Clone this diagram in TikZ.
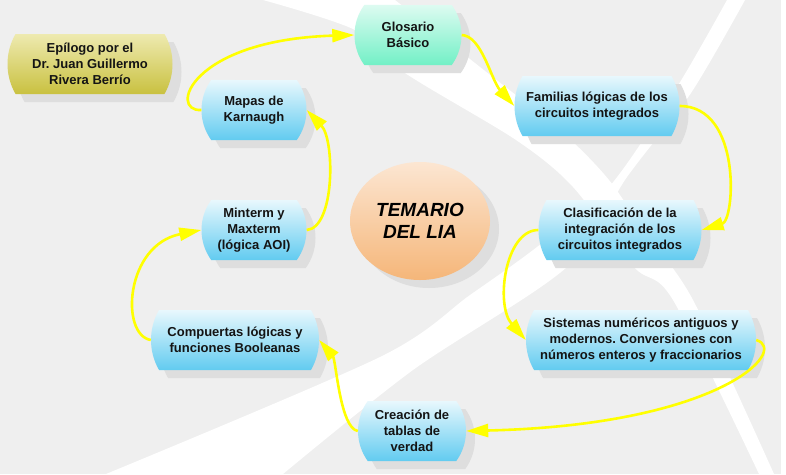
\documentclass[tikz,border=0pt]{standalone}
\usepackage{fontspec}
\setmainfont{Liberation Sans}
\frenchspacing
\usetikzlibrary{shapes.misc,shapes.geometric,shadows,arrows.meta}
\definecolor{fondo}{HTML}{EFEFEF}
\definecolor{sombra}{HTML}{DEDEDE}
\definecolor{celesteA}{HTML}{E8F8FD}
\definecolor{celesteB}{HTML}{62CBF0}
\definecolor{verdeA}{HTML}{DDFBF1}
\definecolor{verdeB}{HTML}{72F0C6}
\definecolor{olivaA}{HTML}{EEEAB0}
\definecolor{olivaB}{HTML}{C9C140}
\definecolor{naranjaA}{HTML}{FCE6D2}
\definecolor{naranjaB}{HTML}{F5B679}
\definecolor{amarillo}{HTML}{FFFF00}
\definecolor{texto}{HTML}{141414}
\begin{document}
\begin{tikzpicture}[x=1pt,y=-1pt,
  every node/.style={font=\bfseries\fontsize{13}{16}\selectfont,text=texto,align=center,inner sep=0pt},
  sombreado/.style={drop shadow={shadow xshift=9pt,shadow yshift=-8pt,fill=sombra,opacity=1}},
  tema/.style={rounded rectangle,rounded rectangle arc length=60,minimum height=60pt,sombreado},
  corto/.style={rounded rectangle arc length=72},
  azul/.style={tema,top color=celesteA,bottom color=celesteB},
  flecha/.style={amarillo,line width=2.6pt,-{Triangle[length=22pt,width=13pt]}}]
\useasboundingbox (0,0) rectangle (786,474);
% fondo con franjas blancas
\begin{scope}
\clip (0,0) rectangle (781,474);
\fill[fondo] (0,0) rectangle (781,474);
\fill[white] plot[smooth] coordinates {(263,0) (355,30) (405,73) (516,140) (573,187) (634,267) (673,300) (759,474)}
  -- plot[smooth] coordinates {(774,474) (693,300) (645,233) (609,180) (563,133) (480,67) (395,0)} -- cycle;
\fill[white] plot[smooth] coordinates {(727,0) (677,87) (609,187) (537,247) (470,295) (380,357) (106,474)}
  -- plot[smooth] coordinates {(283,474) (413,370) (567,267) (627,177) (691,93) (745,0)} -- cycle;
\end{scope}
% temas
\node[tema,top color=olivaA,bottom color=olivaB,minimum width=165pt] (epilogo) at (90,64) {Epílogo por el\\Dr. Juan Guillermo\\Rivera Berrío};
\node[tema,corto,top color=verdeA,bottom color=verdeB,minimum width=107pt] (glosario) at (408,35) {Glosario\\Básico};
\node[azul,minimum width=165pt] (familias) at (597,106) {Familias lógicas de los\\circuitos integrados};
\node[azul,corto,minimum width=105pt] (mapas) at (254,110) {Mapas de\\Karnaugh};
\node[azul,corto,minimum width=105pt] (minterm) at (254,230) {Minterm y\\Maxterm\\(lógica AOI)};
\node[ellipse,minimum width=140pt,minimum height=118pt,top color=naranjaA,bottom color=naranjaB,sombreado,
  font=\bfseries\itshape\fontsize{19}{22}\selectfont,text=black] (temario) at (420,221) {TEMARIO\\DEL LIA};
\node[azul,minimum width=163pt] (clasif) at (620,230) {Clasificación de la\\integración de los\\circuitos integrados};
\node[azul,minimum width=230pt] (sistemas) at (641,340) {Sistemas numéricos antiguos y\\modernos. Conversiones con\\números enteros y fraccionarios};
\node[azul,minimum width=168pt] (compuertas) at (235,340) {Compuertas lógicas y\\funciones Booleanas};
\node[azul,corto,minimum width=108pt] (creacion) at (412,431) {Creación de\\tablas de\\verdad};
% recorrido
\draw[flecha] (mapas.west) .. controls (168,112) and (190,40) .. (glosario.west);
\draw[flecha] (glosario.east) .. controls (482,36) and (491,80) .. (familias.west);
\draw[flecha] (familias.east) .. controls (742,106) and (735,220) .. (clasif.east);
\draw[flecha] (clasif.west) .. controls (505,230) and (495,305) .. (sistemas.west);
\draw[flecha] (sistemas.east) .. controls (790,350) and (720,425) .. (creacion.east);
\draw[flecha] (creacion.west) .. controls (340,428) and (336,360) .. (compuertas.east);
\draw[flecha] (compuertas.west) .. controls (120,335) and (125,245) .. (minterm.west);
\draw[flecha] (minterm.east) .. controls (335,228) and (335,140) .. (mapas.east);
\end{tikzpicture}
\end{document}
